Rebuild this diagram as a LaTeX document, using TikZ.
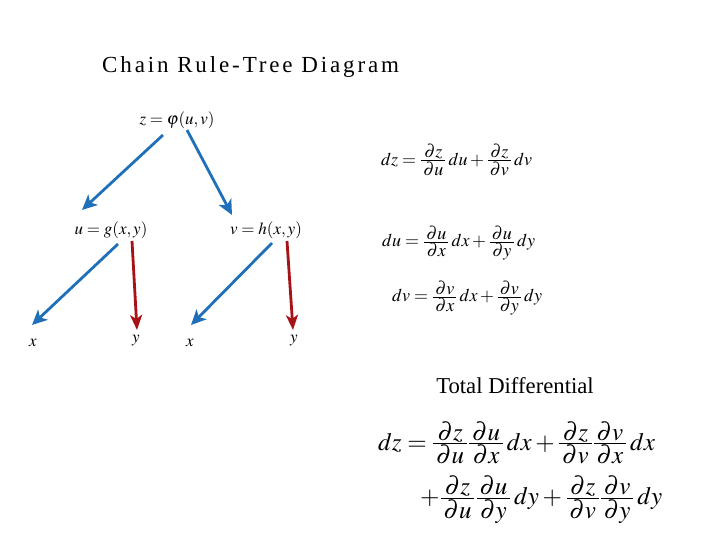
\documentclass[tikz,border=0pt]{standalone}
\usepackage{amsmath}
\usepackage{mathptmx}
\usepackage{fontspec}
\setmainfont{Liberation Serif}
\newfontfamily\titlefont[LetterSpace=12.5]{Liberation Serif}
\usepackage{xcolor}
\usetikzlibrary{arrows.meta,positioning,calc}

\definecolor{treeblue}{RGB}{31,112,184}
\definecolor{treered}{RGB}{166,18,22}

% compact partial fraction
\newcommand{\pfrac}[2]{{\textstyle\frac{\displaystyle\,#1\,}{\displaystyle\,#2\,}}}

\begin{document}
\begin{tikzpicture}[
        x=1pt, y=-1pt,
        var/.style={inner sep=0pt, font=\fontsize{17}{20}\selectfont},
        eqn/.style={inner sep=0pt, anchor=west, font=\fontsize{18}{21}\selectfont},
        bigeqn/.style={inner sep=0pt, anchor=west, font=\fontsize{25}{29}\selectfont},
        blueedge/.style={draw=treeblue, line width=2.8pt,
                         -{Stealth[length=15pt, width=14pt, inset=4pt]}},
        rededge/.style={draw=treered, line width=2.8pt,
                        -{Stealth[length=15pt, width=12pt, inset=4pt]}}
    ]
        \useasboundingbox (0,0) rectangle (720,540);

        % title
        \node[anchor=base west, inner sep=0pt, font=\titlefont\fontsize{23}{26}\selectfont]
            (title) at (102,73) {Chain Rule-Tree Diagram};

        % tree
        \node[var] (z)  at (177,120) {$z=\varphi(u,v)$};
        \node[var] (u)  at (111,230) {$u=g(x,y)$};
        \node[var] (v)  at (266,230) {$v=h(x,y)$};
        \node[var] (x1) at (33,343)  {$x$};
        \node[var] (y1) at (136,341) {$y$};
        \node[var] (x2) at (190,343) {$x$};
        \node[var] (y2) at (294,341) {$y$};

        \draw[blueedge] ($(z)+(-14,15)$) -- ($(u)+(-29,-20)$);
        \draw[blueedge] ($(z)+(10,10)$)  -- ($(v)+(-34,-15)$);
        \draw[blueedge] ($(u)+(7,14)$)   -- ($(x1)+(-1,-18)$);
        \draw[rededge]  ($(u)+(21,11)$)  -- ($(y1)+(1,-11)$);
        \draw[blueedge] ($(v)+(6,13)$)   -- ($(x2)+(1,-18)$);
        \draw[rededge]  ($(v)+(21,11)$)  -- ($(y2)+(-1,-11)$);

        % differentials
        \node[eqn] (dz) at (381,160)
            {$dz=\pfrac{\partial z}{\partial u}\,du+\pfrac{\partial z}{\partial v}\,dv$};
        \node[eqn] (du) at (382,243)
            {$du=\pfrac{\partial u}{\partial x}\,dx+\pfrac{\partial u}{\partial y}\,dy$};
        \node[eqn] (dv) at (392,298)
            {$dv=\pfrac{\partial v}{\partial x}\,dx+\pfrac{\partial v}{\partial y}\,dy$};

        \node[inner sep=0pt, font=\fontsize{22.7}{26}\selectfont] (total) at (515,386) {Total Differential};
        \node[bigeqn] (line1) at (378,443)
            {$dz=\pfrac{\partial z}{\partial u}\pfrac{\partial u}{\partial x}\,dx
              +\pfrac{\partial z}{\partial v}\pfrac{\partial v}{\partial x}\,dx$};
        \node[bigeqn] (line2) at (420,500)
            {$+\pfrac{\partial z}{\partial u}\pfrac{\partial u}{\partial y}\,dy
              +\pfrac{\partial z}{\partial v}\pfrac{\partial v}{\partial y}\,dy$};
    \end{tikzpicture}
\end{document}
